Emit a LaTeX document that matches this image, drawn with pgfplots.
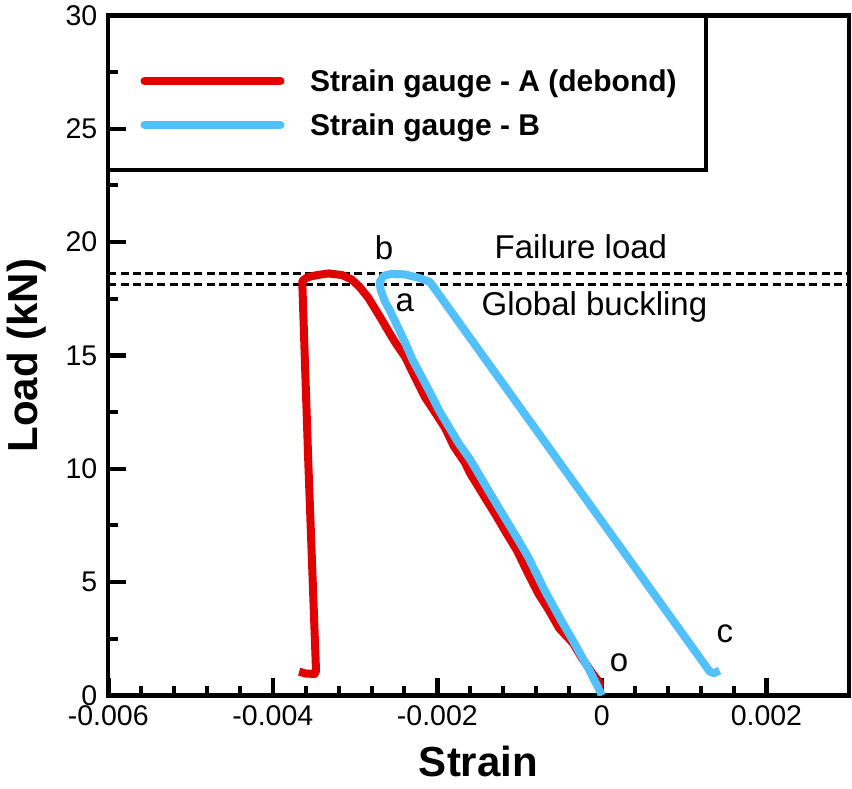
\documentclass[border=0pt]{standalone}
\usepackage{fontspec}
\setmainfont{Liberation Sans}
\usepackage{pgfplots}
\pgfplotsset{compat=1.18}
\definecolor{redA}{RGB}{224,0,0}
\definecolor{blueB}{RGB}{82,192,250}
\begin{document}
\begin{tikzpicture}
\useasboundingbox (0,0) rectangle (852pt,788pt);
\begin{axis}[
  at={(108.3pt,92.5pt)}, anchor=south west,
  scale only axis, width=740.4pt, height=680pt,
  xmin=-0.006, xmax=0.003, ymin=0, ymax=30,
  xtick={-0.006,-0.004,-0.002,0,0.002},
  xticklabels={-0.006,-0.004,-0.002,0,0.002},
  scaled x ticks=false,
  ytick={0,5,10,15,20,25,30},
  minor x tick num=4, minor y tick num=1,
  tick pos=left, tick align=inside,
  major tick length=18pt, minor tick length=10pt,
  every major tick/.append style={line width=4.5pt, black},
  every minor tick/.append style={line width=4pt, black},
  axis line style={line width=4.2pt},
  /pgf/number format/assume math mode=true,
  tick label style={font=\fontsize{28.5}{34}\selectfont, inner sep=0pt},
  xticklabel style={anchor=north, yshift=-9.5pt},
  yticklabel style={anchor=east, xshift=-10.8pt},
  xlabel={Strain}, ylabel={Load (kN)},
  label style={font=\fontsize{42}{50}\selectfont\bfseries, inner sep=0pt},
  xlabel style={at={(axis description cs:0.5,-0.1184)}, anchor=base},
  ylabel style={at={(axis description cs:-0.0963,0.5)}, anchor=base},
  legend style={draw=none, fill=none, at={(axis description cs:0.0435,0.9199)},
    anchor=north west, inner sep=0pt, outer sep=0pt, row sep=22pt, column sep=25.5pt,
    font=\fontsize{30}{36}\selectfont\bfseries,
    nodes={inner sep=0pt, text height=22pt, text depth=0pt}},
  legend cell align=left,
  legend image code/.code={\draw[#1, line cap=round] (0pt,0pt) -- (136pt,0pt);},
]
\addplot[black, line width=3pt, dash pattern=on 8pt off 4.3pt, forget plot] coordinates {(-0.006,18.63) (0.003,18.63)};
\addplot[black, line width=3pt, dash pattern=on 8pt off 4.3pt, forget plot] coordinates {(-0.006,18.12) (0.003,18.12)};

\addplot[redA, line width=8pt, line join=round] coordinates {
(-0.00002,0.35) (-0.00004,0.62) (-0.00012,1.0) (-0.00024,1.64) (-0.00035,2.3)
(-0.00052,2.97) (-0.00065,3.8) (-0.00077,4.48) (-0.00090,5.4) (-0.00103,6.38)
(-0.00115,7.1) (-0.00130,8.02) (-0.00145,8.9) (-0.00160,9.79) (-0.00166,10.24)
(-0.00180,11.0) (-0.00191,11.83) (-0.00203,12.5) (-0.00215,13.16) (-0.00228,14.1)
(-0.00239,14.93) (-0.00248,15.4) (-0.00255,15.8) (-0.00268,16.6) (-0.00284,17.55)
(-0.00294,18.0) (-0.00304,18.35) (-0.00316,18.55) (-0.00332,18.62) (-0.00346,18.55)
(-0.00358,18.45) (-0.00364,18.3) (-0.00364,18.0) (-0.00357,10.4) (-0.003475,1.1)
(-0.00349,0.95) (-0.00360,0.97) (-0.00368,1.05)
};
\addlegendentry{Strain gauge - A (debond)}

\addplot[blueB, line width=8pt, line join=round] coordinates {
(0,0) (-0.00004,0.31) (-0.00015,1.1) (-0.00028,1.95) (-0.00038,2.6)
(-0.00049,3.28) (-0.00060,4.0) (-0.00069,4.6) (-0.00080,5.4) (-0.00089,6.07)
(-0.00104,7.0) (-0.00118,7.84) (-0.00134,8.8) (-0.00150,9.79) (-0.00160,10.4)
(-0.00174,11.12) (-0.00186,11.85) (-0.00198,12.58) (-0.00208,13.3) (-0.00219,14.05)
(-0.00230,14.8) (-0.00239,15.55) (-0.00250,16.4) (-0.00258,17.0) (-0.00264,17.4)
(-0.00269,17.9) (-0.00270,18.25) (-0.00265,18.52) (-0.00256,18.6) (-0.00240,18.58)
(-0.00222,18.42) (-0.00209,18.24) (0.00131,1.06) (0.00136,0.98) (0.00143,1.1)
};
\addlegendentry{Strain gauge - B}

\draw[line width=4.2pt] (axis description cs:0,1) rectangle (axis description cs:0.8073,0.7732);

\node[anchor=base, font=\fontsize{33}{40}\selectfont, inner sep=0pt] at (axis cs:-0.000255,19.30) {Failure load};
\node[anchor=base, font=\fontsize{33}{40}\selectfont, inner sep=0pt] at (axis cs:-0.000091,16.78) {Global buckling};
\node[anchor=base, font=\fontsize{33}{40}\selectfont, inner sep=0pt] at (axis cs:-0.002649,19.25) {b};
\node[anchor=base, font=\fontsize{33}{40}\selectfont, inner sep=0pt] at (axis cs:-0.002395,16.92) {a};
\node[anchor=base, font=\fontsize{33}{40}\selectfont, inner sep=0pt] at (axis cs:0.000207,1.08) {o};
\node[anchor=base, font=\fontsize{33}{40}\selectfont, inner sep=0pt] at (axis cs:0.001495,2.36) {c};
\end{axis}
\end{tikzpicture}
\end{document}
